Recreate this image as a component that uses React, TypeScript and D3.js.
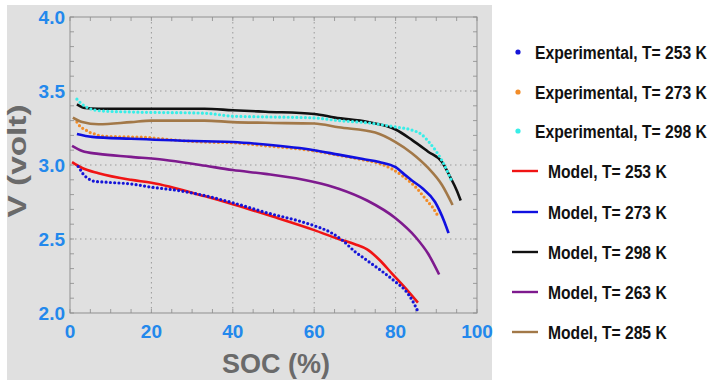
import { scaleLinear, line, curveMonotoneX } from "d3";

type Pt = [number, number];

// SOC (%) , V (volt)
const expT253: Pt[] = [
  [2, 2.99], [2.5, 2.97], [3.2, 2.94], [4.4, 2.91], [6, 2.89], [9.3, 2.883],
  [15, 2.872], [20, 2.85], [26, 2.83], [32, 2.8], [40, 2.745], [48, 2.68],
  [56.5, 2.62], [60, 2.59], [64, 2.545], [67, 2.49], [70, 2.415], [72, 2.375],
  [75, 2.315], [77, 2.275], [80, 2.21], [82.3, 2.155], [84, 2.09], [85.5, 2.01],
];
const expT273: Pt[] = [
  [1.7, 3.29], [2.5, 3.26], [3.7, 3.24], [4.9, 3.22], [6.1, 3.21], [7.8, 3.195],
  [13.5, 3.19], [17.7, 3.188], [25, 3.17], [33, 3.155], [40, 3.15], [48, 3.13],
  [60, 3.095], [66, 3.065], [72, 3.035], [76, 3.01], [79, 2.975], [82, 2.92],
  [84, 2.875], [85.3, 2.84], [86.5, 2.8], [88, 2.75], [89.2, 2.71], [90.3, 2.66],
];
const expT298: Pt[] = [
  [1.7, 3.445], [3, 3.41], [4.5, 3.385], [7.8, 3.365], [15, 3.358], [33, 3.35],
  [40, 3.33], [48, 3.325], [60, 3.318], [66, 3.3], [73, 3.285], [80, 3.257],
  [84, 3.236], [86.2, 3.21], [88.2, 3.155], [89.9, 3.095], [91.4, 3.03],
  [93.9, 2.885],
];

const modelT253: Pt[] = [
  [0.5, 3.02], [3, 2.98], [7, 2.945], [15, 2.9], [20, 2.88], [33, 2.79],
  [40, 2.735], [50, 2.65], [60, 2.56], [66, 2.5], [70, 2.465], [73, 2.43],
  [76, 2.36], [79, 2.27], [83, 2.15], [85.5, 2.07],
];
const modelT273: Pt[] = [
  [1.7, 3.21], [5.4, 3.19], [15, 3.177], [33, 3.16], [40, 3.155], [48, 3.138],
  [60, 3.1], [66, 3.07], [72, 3.04], [76, 3.02], [80, 2.985], [82, 2.94],
  [84, 2.895], [86.5, 2.845], [89.7, 2.75], [92, 2.615], [93, 2.54],
];
const modelT298: Pt[] = [
  [1.7, 3.41], [3.7, 3.385], [6.9, 3.38], [20, 3.38], [33, 3.38], [40, 3.37],
  [48, 3.36], [60, 3.345], [65.1, 3.32], [73.2, 3.29], [80, 3.24], [84, 3.17],
  [88, 3.09], [91.4, 3.02], [93.4, 2.92], [95, 2.83], [96, 2.76],
];
const modelT263: Pt[] = [
  [0.5, 3.13], [3, 3.095], [7, 3.075], [15, 3.055], [23, 3.035], [32, 3.0],
  [40, 2.966], [48, 2.94], [60, 2.885], [66, 2.84], [73, 2.76], [80, 2.64],
  [85, 2.51], [88, 2.4], [90.7, 2.26],
];
const modelT285: Pt[] = [
  [0.7, 3.32], [3, 3.29], [7, 3.275], [15, 3.29], [20, 3.3], [33, 3.3],
  [40, 3.29], [48, 3.285], [60, 3.28], [66, 3.255], [75, 3.22], [80, 3.155],
  [84, 3.08], [88, 2.98], [91.4, 2.865], [94, 2.73],
];

const xTicks = [0, 20, 40, 60, 80, 100];
const yTicks = [2.0, 2.5, 3.0, 3.5, 4.0];

const expSeries = [
  { label: "Experimental, T= 253 K", color: "#1515d8", data: expT253 },
  { label: "Experimental, T= 273 K", color: "#f28c28", data: expT273 },
  { label: "Experimental, T= 298 K", color: "#38eee8", data: expT298 },
];
const modelSeries = [
  { label: "Model, T= 253 K", color: "#f01414", data: modelT253 },
  { label: "Model, T= 273 K", color: "#1010e0", data: modelT273 },
  { label: "Model, T= 298 K", color: "#111111", data: modelT298 },
  { label: "Model, T= 263 K", color: "#7e1a8e", data: modelT263 },
  { label: "Model, T= 285 K", color: "#a27848", data: modelT285 },
];

const legendY = [52, 92, 131, 171, 212, 252, 292, 332];

const App = () => {
  const plot = { left: 70, right: 477, top: 17, bottom: 313 };
  const x = scaleLinear().domain([0, 100]).range([plot.left, plot.right]);
  const y = scaleLinear().domain([2, 4]).range([plot.bottom, plot.top]);
  const path = line<Pt>()
    .x((d) => x(d[0]))
    .y((d) => y(d[1]))
    .curve(curveMonotoneX);

  const font = "'Liberation Sans', Arial, sans-serif";
  const tickBlue = "#2388ec";

  const drawExp = (s: (typeof expSeries)[number]) => (
    <path
      key={s.label}
      d={path(s.data) ?? ""}
      fill="none"
      stroke={s.color}
      strokeWidth={3.2}
      strokeLinecap="round"
      strokeDasharray="0 4.3"
    />
  );

  // condensed legend text
  const legendText = (tx: number, ty: number, label: string) => (
    <text
      transform={`translate(${tx},${ty + 6.5}) scale(0.87,1)`}
      fontSize={18}
      fontWeight="bold"
      fill="#111"
    >
      {label}
    </text>
  );

  return (
    <svg
      width={710}
      height={383}
      style={{ position: "absolute", left: 0, top: 0, background: "#fff" }}
      fontFamily={font}
    >
      <rect x={7} y={5} width={485} height={375} fill="#e0e0e0" />

      {/* minor ticks */}
      {x.ticks(20).map((t) => (
        <g key={`mx${t}`} stroke="#8a8a8a" strokeWidth={0.8}>
          <line x1={x(t)} x2={x(t)} y1={plot.bottom} y2={plot.bottom - 4} />
          <line x1={x(t)} x2={x(t)} y1={plot.top} y2={plot.top + 4} />
        </g>
      ))}
      {y.ticks(20).map((t) => (
        <g key={`my${t}`} stroke="#8a8a8a" strokeWidth={0.8}>
          <line x1={plot.left} x2={plot.left + 4} y1={y(t)} y2={y(t)} />
          <line x1={plot.right} x2={plot.right - 4} y1={y(t)} y2={y(t)} />
        </g>
      ))}

      {/* grid */}
      {xTicks.slice(1, -1).map((t) => (
        <line
          key={`gx${t}`}
          x1={x(t)}
          x2={x(t)}
          y1={plot.top}
          y2={plot.bottom}
          stroke="#9a9a9a"
          strokeWidth={1}
          strokeDasharray="1.5 3.5"
        />
      ))}
      {yTicks.slice(1, -1).map((t) => (
        <line
          key={`gy${t}`}
          x1={plot.left}
          x2={plot.right}
          y1={y(t)}
          y2={y(t)}
          stroke="#9a9a9a"
          strokeWidth={1}
          strokeDasharray="1.5 3.5"
        />
      ))}

      <rect
        x={plot.left}
        y={plot.top}
        width={plot.right - plot.left}
        height={plot.bottom - plot.top}
        fill="none"
        stroke="#8f8f8f"
        strokeWidth={1}
      />

      {/* data */}
      {drawExp(expSeries[1])}
      {modelSeries.map((s) => (
        <path
          key={s.label}
          d={path(s.data) ?? ""}
          fill="none"
          stroke={s.color}
          strokeWidth={2.6}
          strokeLinejoin="round"
        />
      ))}
      {drawExp(expSeries[0])}
      {drawExp(expSeries[2])}

      {/* tick labels */}
      {xTicks.map((t) => (
        <text
          key={`tx${t}`}
          x={x(t)}
          y={338}
          textAnchor="middle"
          fontSize={19}
          fontWeight="bold"
          fill={tickBlue}
        >
          {t}
        </text>
      ))}
      {yTicks.map((t) => (
        <text
          key={`ty${t}`}
          x={65}
          y={y(t) + 7}
          textAnchor="end"
          fontSize={19}
          fontWeight="bold"
          fill={tickBlue}
        >
          {t.toFixed(1)}
        </text>
      ))}

      {/* axis titles */}
      <text
        x={276}
        y={373}
        textAnchor="middle"
        fontSize={28}
        fontWeight="bold"
        fill="#6a6a6a"
        textLength={108}
        lengthAdjust="spacingAndGlyphs"
      >
        SOC (%)
      </text>
      <text
        transform="translate(26,161) rotate(-90)"
        textAnchor="middle"
        fontSize={25}
        fontWeight="bold"
        fill="#6a6a6a"
        textLength={113}
        lengthAdjust="spacingAndGlyphs"
      >
        V (volt)
      </text>

      {/* legend */}
      {expSeries.map((s, i) => (
        <g key={`le${i}`}>
          <circle cx={518} cy={legendY[i]} r={2.6} fill={s.color} />
          {legendText(535, legendY[i], s.label)}
        </g>
      ))}
      {modelSeries.map((s, i) => (
        <g key={`lm${i}`}>
          <line
            x1={512}
            x2={538}
            y1={legendY[i + 3]}
            y2={legendY[i + 3]}
            stroke={s.color}
            strokeWidth={2.4}
          />
          {legendText(548, legendY[i + 3], s.label)}
        </g>
      ))}
    </svg>
  );
};

export default App;
